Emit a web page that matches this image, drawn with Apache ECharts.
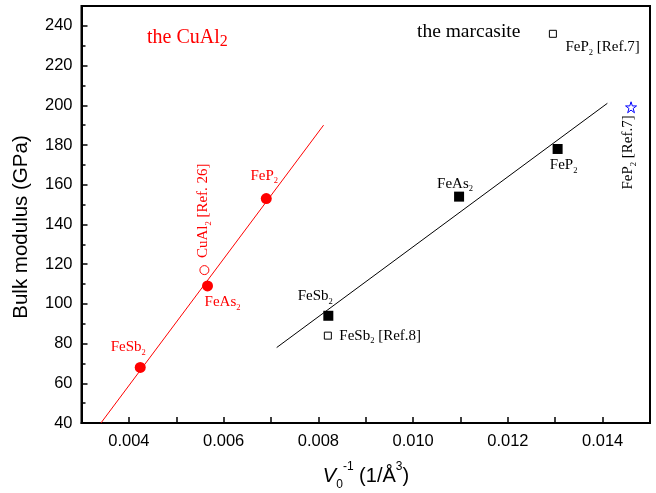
<!DOCTYPE html>
<html>
<head>
<meta charset="utf-8">
<script src="https://cdn.jsdelivr.net/npm/echarts@6/dist/echarts.min.js"></script>
<style>
  html, body { margin: 0; padding: 0; background: #fff; }
  #chart { width: 656px; height: 493px; }
</style>
</head>
<body>
<div id="chart"></div>
<script>
// CuAl2-type points (filled red circles)
const cuAl2Names = ['FeSb', 'FeAs', 'FeP'];
const cuAl2X = [0.00424, 0.00566, 0.0069];
const cuAl2Y = [68, 109, 153];
// CuAl2 reference point (open red circle)
const cuAl2RefX = [0.005594];
const cuAl2RefY = [117];
// marcasite points (filled black squares)
const marcNames = ['FeSb', 'FeAs', 'FeP'];
const marcX = [0.00821, 0.01097, 0.01305];
const marcY = [94, 154, 178];
// marcasite references (open black squares)
const marcRefNames = ['FeSb', 'FeP'];
const marcRefTags = ['[Ref.8]', '[Ref.7]'];
const marcRefX = [0.0082, 0.01295];
const marcRefY = [84, 236];
// blue star reference
const starX = [0.0146];
const starY = [199];
// fit lines
const cuAl2FitX = [0.00341, 0.00811];
const cuAl2FitY = [40, 190];
const marcFitX = [0.00712, 0.0141];
const marcFitY = [78, 201];

const serif = '"Liberation Serif", "Times New Roman", serif';
const sans = '"Liberation Sans", Arial, sans-serif';

const zip = (xs, ys) => xs.map((x, i) => [x, ys[i]]);

const subRich = (color) => ({
  m: { fontFamily: serif, fontSize: 15, color: color },
  s: { fontFamily: serif, fontSize: 8.5, color: color, padding: [11, 0, 0, 0] }
});

const redOffsets = [[-12, -20], [15, 16], [-2, -23]];
const blackOffsets = [[-13, -20], [-4, -13], [6, 16]];
const refOffsets = [[11.5, 0], [12.5, 13]];

const chart = echarts.init(document.getElementById('chart'));

const option = {
  animation: false,
  grid: {
    left: 81.5, top: 6, right: 6, bottom: 70,
    show: true, borderColor: '#000', borderWidth: 2
  },
  xAxis: {
    type: 'value', min: 0.003, max: 0.015, interval: 0.001,
    axisLine: { show: true, lineStyle: { color: '#000', width: 2 } },
    axisTick: { show: true, inside: true, length: 6, lineStyle: { color: '#000', width: 1.5 } },
    splitLine: { show: false },
    axisLabel: {
      color: '#000', fontFamily: sans, fontSize: 16.5, margin: 10,
      formatter: v => (Math.round(v * 1000) % 2 === 0 ? v.toFixed(3) : '')
    }
  },
  yAxis: {
    type: 'value', min: 40, max: 250, interval: 20,
    axisLine: { show: true, lineStyle: { color: '#000', width: 2 } },
    axisTick: { show: true, inside: true, length: 6, lineStyle: { color: '#000', width: 1.5 } },
    minorTick: { show: true, splitNumber: 2, length: 4, lineStyle: { color: '#000', width: 1.5 } },
    splitLine: { show: false },
    axisLabel: { color: '#000', fontFamily: sans, fontSize: 16.5, margin: 9, showMaxLabel: false }
  },
  graphic: [
    {
      type: 'text', x: 147, y: 26,
      style: {
        text: '{a|the CuAl}{b|2}',
        rich: {
          a: { fontFamily: serif, fontSize: 20, fill: '#ff0000' },
          b: { fontFamily: serif, fontSize: 16, fill: '#ff0000', padding: [8, 0, 0, 0] }
        }
      }
    },
    {
      type: 'text', x: 417, y: 22,
      style: { text: 'the marcasite', font: '19.5px ' + serif, fill: '#000' }
    },
    {
      type: 'text', x: 21, y: 227, rotation: Math.PI / 2,
      style: { text: 'Bulk modulus (GPa)', font: '20.5px ' + sans, fill: '#000', align: 'center', verticalAlign: 'middle' }
    },
    {
      type: 'text', x: 366, y: 476,
      style: {
        text: '{v|V}{sb|0}{sp|-1}{t| (1/Å}{sp|3}{t|)}',
        align: 'center', verticalAlign: 'middle',
        rich: {
          v: { fontFamily: sans, fontStyle: 'italic', fontSize: 20, fill: '#000' },
          t: { fontFamily: sans, fontSize: 20, fill: '#000' },
          sb: { fontFamily: sans, fontSize: 12, fill: '#000', padding: [18, 0, 0, 0] },
          sp: { fontFamily: sans, fontSize: 12, fill: '#000', padding: [0, 0, 18, 0] }
        }
      }
    }
  ],
  series: [
    {
      type: 'line', data: zip(cuAl2FitX, cuAl2FitY), symbol: 'none',
      lineStyle: { color: '#ff0000', width: 1 }, silent: true
    },
    {
      type: 'line', data: zip(marcFitX, marcFitY), symbol: 'none',
      lineStyle: { color: '#000', width: 1 }, silent: true
    },
    {
      type: 'scatter', symbol: 'circle', symbolSize: 11,
      itemStyle: { color: '#ff0000', opacity: 1 },
      data: cuAl2X.map((x, i) => ({
        value: [x, cuAl2Y[i]],
        label: {
          show: true, position: 'inside', offset: redOffsets[i],
          formatter: '{m|' + cuAl2Names[i] + '}{s|2}',
          rich: subRich('#ff0000')
        }
      }))
    },
    {
      type: 'scatter', symbol: 'circle', symbolSize: 9,
      itemStyle: { color: 'transparent', borderColor: '#ff0000', borderWidth: 1, opacity: 1 },
      data: cuAl2RefX.map((x, i) => ({
        value: [x, cuAl2RefY[i]],
        label: {
          show: true, position: 'inside', rotate: 90, align: 'left', verticalAlign: 'middle',
          offset: [12, -1],
          formatter: '{m|CuAl}{s|2}{m| [Ref. 26]}',
          rich: subRich('#ff0000')
        }
      }))
    },
    {
      type: 'scatter', symbol: 'rect', symbolSize: 10,
      itemStyle: { color: '#000', opacity: 1 },
      data: marcX.map((x, i) => ({
        value: [x, marcY[i]],
        label: {
          show: true, position: 'inside', offset: blackOffsets[i],
          formatter: '{m|' + marcNames[i] + '}{s|2}',
          rich: subRich('#000')
        }
      }))
    },
    {
      type: 'scatter', symbol: 'rect', symbolSize: 7,
      itemStyle: { color: '#fff', borderColor: '#000', borderWidth: 1, opacity: 1 },
      data: marcRefX.map((x, i) => ({
        value: [x, marcRefY[i]],
        label: {
          show: true, position: 'inside', align: 'left', offset: refOffsets[i],
          formatter: '{m|' + marcRefNames[i] + '}{s|2}{m| ' + marcRefTags[i] + '}',
          rich: subRich('#000')
        }
      }))
    },
    {
      type: 'scatter',
      symbol: 'path://M50,2 L61,36 L97,36 L68,57 L79,92 L50,70 L21,92 L32,57 L3,36 L39,36 Z',
      symbolSize: 11,
      itemStyle: { color: 'transparent', borderColor: '#0000ff', borderWidth: 1, opacity: 1 },
      data: starX.map((x, i) => ({
        value: [x, starY[i]],
        label: {
          show: true, position: 'inside', rotate: 90, align: 'right', verticalAlign: 'middle',
          offset: [-8, -3],
          formatter: '{m|FeP}{s|2}{m| [Ref.7]}',
          rich: subRich('#000')
        }
      }))
    }
  ]
};

chart.setOption(option);
</script>
</body>
</html>
